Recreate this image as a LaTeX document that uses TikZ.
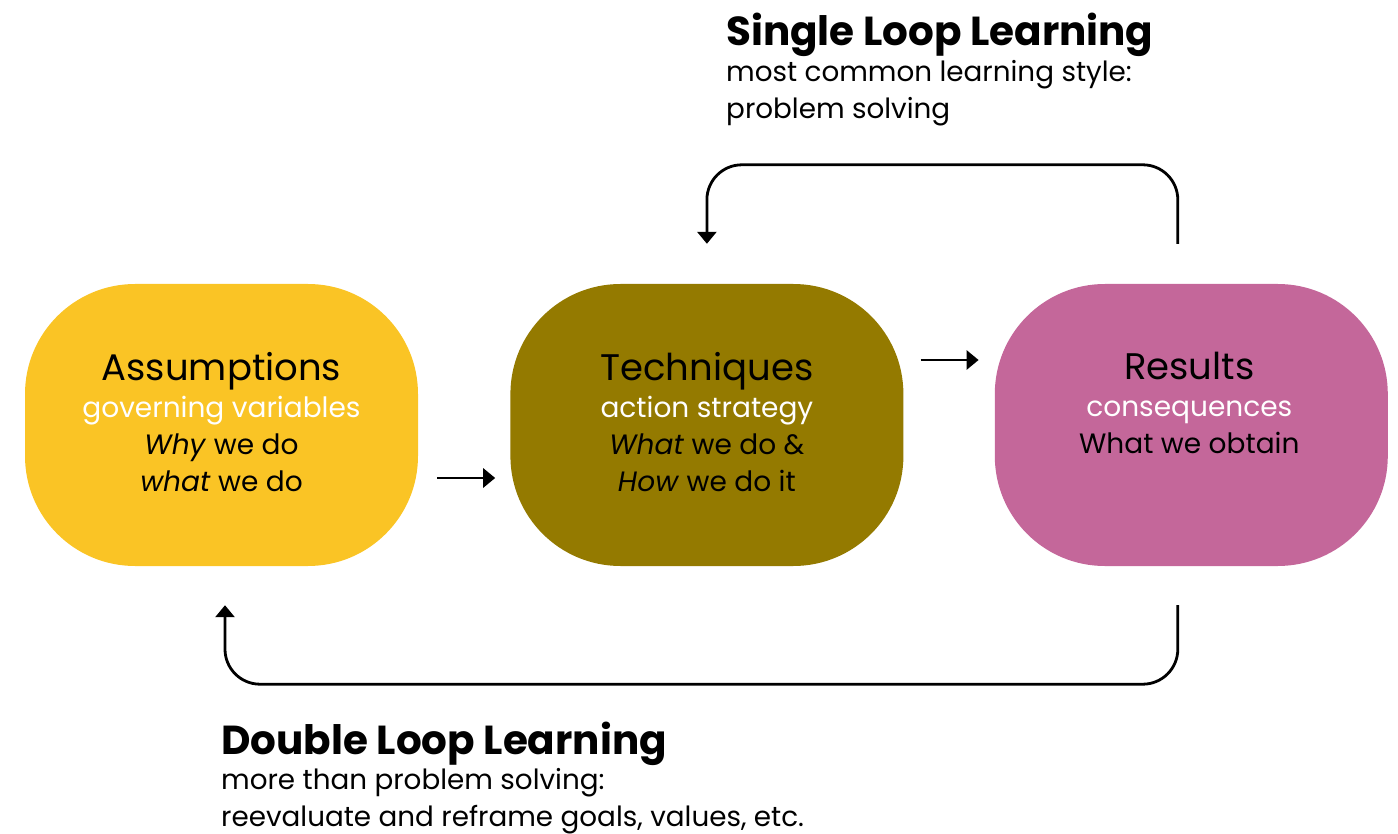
\documentclass[tikz,border=0pt]{standalone}
\usepackage{fontspec}
\setmainfont{Poppins}
\usepackage{tikz}
\usetikzlibrary{arrows.meta}
\usetikzlibrary{positioning}

\definecolor{assyellow}{HTML}{FAC425}
\definecolor{techolive}{HTML}{947A00}
\definecolor{respink}{HTML}{C4679A}

\tikzset{
  stage/.style={minimum width=393pt, minimum height=282pt,
                rounded corners=110pt, inner sep=0pt},
  stagetext/.style={anchor=base, align=center, inner sep=0pt,
                    font=\fontsize{28}{37}\selectfont},
  flow/.style={line width=2.8pt, -{Triangle[width=19pt,length=12pt]}},
  loopline/.style={flow, rounded corners=35pt},
  heading/.style={anchor=base west, inner sep=0pt,
                  font=\fontsize{40.5}{44}\selectfont\bfseries},
  subheading/.style={anchor=base west, align=left, inner sep=0pt,
                     font=\fontsize{27.8}{37}\selectfont},
}

\newcommand{\stagetitle}[1]{{\fontsize{37}{37}\selectfont #1}\\}

\begin{document}
\begin{tikzpicture}[x=1pt, y=-1pt]
\useasboundingbox (0,0) rectangle (1398,834);

% the three stages
\node[stage, fill=assyellow] (ass) at (221.5,425) {};
\node[stage, fill=techolive, right=92pt of ass] (tech) {};
\node[stage, fill=respink, right=91pt of tech] (res) {};

% text sits on the baseline of its last line
\node[stagetext] (asstxt) at ([yshift=-66pt]ass.center) {\stagetitle{Assumptions}
  \textcolor{white}{governing variables}\\
  \textit{Why} we do\\
  \textit{what} we do};
\node[stagetext] (techtxt) at ([yshift=-66pt]tech.center) {\stagetitle{Techniques}
  \textcolor{white}{action strategy}\\
  \textit{What} we do \&\\
  \textit{How} we do it};
\node[stagetext] (restxt) at ([xshift=-2pt,yshift=-28pt]res.center) {\stagetitle{Results}
  \textcolor{white}{consequences}\\
  What we obtain};

% short arrows between stages
\draw[flow, shorten <=19pt, shorten >=15pt]
  ([yshift=-53pt]ass.east) -- ([yshift=-53pt]tech.west);
\draw[flow, shorten <=17pt, shorten >=16pt]
  ([yshift=65pt]tech.east) -- ([yshift=65pt]res.west);

% single loop
\draw[loopline] ([xshift=-13.5pt,yshift=40pt]res.north)
  |- ([yshift=119pt]tech.north) -- ([yshift=40pt]tech.north);

% double loop
\draw[loopline] ([xshift=-13.5pt,yshift=-39pt]res.south)
  |- ([xshift=3.5pt,yshift=-118pt]ass.south) -- ([xshift=3.5pt,yshift=-39pt]ass.south);

% captions
\node[heading] (single) at (726,46) {Single Loop Learning};
\node[subheading] (singletxt) at (726,119) {most common learning style:\\problem solving};
\node[heading] (double) at (221,754) {Double Loop Learning};
\node[subheading] (doubletxt) at (221,826) {more than problem solving:\\reevaluate and reframe goals, values, etc.};
\end{tikzpicture}
\end{document}
